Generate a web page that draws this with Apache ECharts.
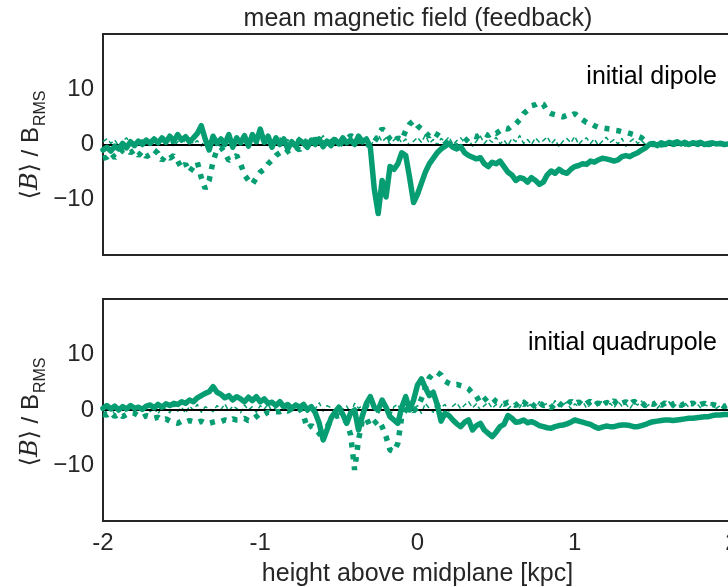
<!DOCTYPE html>
<html>
<head>
<meta charset="utf-8">
<script src="https://cdn.jsdelivr.net/npm/echarts@6/dist/echarts.min.js"></script>
<style>
html,body{margin:0;padding:0;background:#fff;}
#chart{width:728px;height:587px;}
</style>
</head>
<body>
<div id="chart"></div>
<script>
// ---- data ----
const chartTitle = 'mean magnetic field (feedback)';
const panelLabels = ['initial dipole', 'initial quadrupole'];
const xAxisName = 'height above midplane [kpc]';
const xTickValues = [-2, -1, 0, 1, 2];
const xTickLabels = ['-2', '-1', '0', '1', '2'];
const yTickValues = [-10, 0, 10];
const yTickLabels = ['\u221210', '0', '10'];

// sampling grid of heights (kpc), 161 samples from -2 to 2
const zStart = -2, zStep = 0.025, zCount = 161;

// top panel (initial dipole)
const dipoleSolid = [
  -1.0,-0.5,-1.2,-0.3,-0.8,0.2,-0.6,0.5,-0.2,0.6,
  0.0,0.8,0.2,1.0,0.3,1.2,0.4,1.5,0.6,1.8,
  0.8,1.4,0.5,1.2,2.0,3.4,1.0,-1.0,1.5,0.2,
  1.0,0.0,1.8,-0.5,1.2,0.3,1.6,-0.3,1.8,0.5,
  2.8,0.4,1.5,-0.5,1.2,0.0,1.0,-0.8,0.5,-0.3,
  0.8,0.2,-0.5,0.8,0.0,1.0,-0.4,0.6,-0.2,0.9,
  0.1,1.2,0.3,0.8,0.0,1.5,0.5,1.0,-0.5,-8.0,
  -12.5,-6.5,-9.5,-4.0,-4.5,-3.5,-1.5,-2.0,-6.0,-10.5,
  -9.0,-7.0,-5.0,-3.5,-2.5,-1.5,-0.8,-0.3,0.2,-0.5,
  -0.8,-0.4,-1.5,-2.0,-2.3,-2.6,-2.4,-3.5,-4.0,-3.2,
  -3.5,-3.0,-4.0,-5.0,-5.5,-6.5,-6.0,-6.2,-6.8,-6.0,
  -6.5,-7.2,-6.8,-5.5,-4.8,-5.2,-4.5,-5.0,-5.2,-4.5,
  -4.0,-3.8,-3.5,-3.6,-3.0,-3.2,-2.8,-2.5,-2.6,-2.8,
  -3.0,-2.8,-2.2,-2.0,-2.2,-1.8,-1.5,-1.0,-0.6,0.0,
  0.2,-0.2,0.3,0.0,0.4,0.2,0.5,0.1,0.4,0.0,
  0.3,0.2,0.4,0.0,0.2,0.3,0.1,0.2,0.0,0.1,
  0.0
];
const dipoleDotted = [
  -2.5,-2.3,-1.5,-2.4,-1.8,-1.0,-0.8,-1.5,-1.0,-2.0,
  -1.2,-2.2,-1.8,-1.0,-1.6,-2.9,-2.0,-2.5,-2.0,-3.0,
  -4.3,-3.5,-5.0,-4.0,-3.2,-6.0,-8.0,-6.5,-3.0,-1.0,
  -0.5,-1.5,-2.9,-2.5,-2.0,-3.5,-5.5,-6.5,-7.2,-6.0,
  -5.0,-4.5,-3.5,-2.8,-2.0,-1.5,-1.8,-1.2,-1.0,-0.5,
  -1.0,0.2,0.8,0.3,1.0,0.5,0.0,0.8,1.2,0.4,
  -0.3,0.6,1.0,1.6,1.2,0.5,1.0,0.2,-0.4,0.5,
  1.5,2.9,2.0,1.0,0.4,1.2,0.8,2.5,3.7,4.3,
  3.4,2.8,2.2,1.5,2.2,1.8,1.3,0.5,0.0,0.2,
  -0.3,0.1,0.5,1.2,1.6,1.4,1.8,2.0,1.6,2.2,
  2.0,2.5,3.0,2.8,3.4,3.7,4.5,5.6,6.2,7.0,
  7.2,7.6,7.3,6.0,5.6,5.4,5.2,5.0,5.3,5.2,
  5.6,5.0,4.5,4.0,3.8,3.4,3.1,3.0,2.9,2.8,
  2.6,2.5,2.3,2.2,2.0,1.8,1.5,1.2,0.6,0.2,
  0.0,0.2,-0.1,0.1,0.3,0.0,0.2,-0.1,0.1,0.2,
  0.0,0.1,-0.1,0.2,0.0,0.1,0.0,0.2,0.1,0.0,
  0.1
];
const dipoleDashed = [
  0.5,1.0,0.2,0.8,-0.3,0.6,1.2,0.1,0.7,-0.2,
  0.9,0.3,1.1,0.0,0.6,1.3,0.2,0.8,-0.4,0.5,
  1.0,0.3,1.4,0.1,0.7,-0.3,0.9,0.4,1.2,0.0,
  0.6,1.5,0.2,0.8,-0.2,1.0,0.3,0.7,1.3,0.0,
  0.5,1.1,-0.3,0.8,0.2,1.2,0.4,0.9,-0.1,0.6,
  1.4,0.2,0.8,0.0,1.1,0.5,1.6,0.3,0.9,-0.2,
  0.7,1.2,0.1,1.0,0.4,1.5,0.2,0.6,-0.3,0.9,
  1.8,0.5,1.2,0.0,0.8,1.4,0.3,1.0,-0.2,0.6,
  1.3,0.4,1.7,0.2,0.9,-0.1,1.1,0.5,1.4,0.0,
  0.7,1.2,0.3,0.9,-0.3,0.6,1.5,0.2,1.0,0.4,
  1.3,0.1,0.8,-0.2,1.1,0.5,1.6,0.2,0.9,0.0,
  1.2,0.4,0.7,1.4,0.1,0.9,-0.4,0.6,1.1,0.3,
  1.5,0.0,0.8,1.2,0.2,1.0,-0.2,0.6,1.3,0.4,
  0.9,0.1,1.1,-0.3,0.5,1.0,0.2,0.7,0.0,0.4,
  0.2,0.3,0.1,0.2,0.0,0.2,0.1,0.0,0.1,0.2,
  0.0,0.1,0.0,0.1,0.2,0.0,0.1,0.0,0.1,0.0,
  0.1
];

// bottom panel (initial quadrupole)
const quadSolid = [
  0.3,0.8,0.2,0.7,0.0,0.6,0.2,0.8,0.3,0.5,
  0.1,0.7,0.9,0.4,1.0,0.5,1.1,0.8,1.2,1.0,
  1.5,1.2,1.8,1.5,2.2,2.6,3.0,3.3,4.2,3.2,
  2.8,2.2,2.6,1.8,2.4,2.0,1.5,2.3,1.7,2.4,
  1.5,2.0,1.2,1.4,0.8,1.5,0.6,1.0,0.3,0.9,
  0.5,1.0,0.0,0.6,-0.5,-2.4,-5.4,-3.5,-1.5,-0.4,
  0.5,-0.8,-2.4,-0.5,0.0,-3.6,-1.0,1.2,2.4,0.5,
  0.0,1.8,0.5,-1.2,-1.8,-2.4,0.5,2.4,0.0,1.8,
  4.5,5.6,4.0,2.6,3.2,1.0,-2.0,-0.6,-1.0,-1.8,
  -2.5,-3.0,-2.2,-1.8,-3.6,-2.8,-2.4,-3.6,-4.2,-4.8,
  -4.0,-3.0,-2.6,-1.0,-1.5,-2.2,-2.1,-1.8,-2.3,-2.1,
  -2.4,-2.8,-3.0,-3.2,-3.3,-3.0,-2.8,-2.7,-2.5,-2.2,
  -1.8,-2.0,-2.2,-2.4,-2.6,-3.0,-3.3,-3.1,-2.9,-3.0,
  -3.0,-2.8,-2.7,-2.7,-2.8,-3.0,-3.0,-2.8,-2.6,-2.3,
  -2.1,-2.0,-1.9,-1.8,-1.8,-1.9,-1.8,-1.7,-1.6,-1.5,
  -1.5,-1.4,-1.3,-1.2,-1.2,-1.0,-0.9,-0.9,-0.8,-0.8,
  -0.7
];
const quadDotted = [
  -0.8,-0.9,-0.4,-1.2,-0.6,-1.2,-0.8,-0.5,-0.6,-1.0,
  -1.4,-1.0,-1.2,-1.5,-1.3,-1.8,-1.6,-2.0,-2.2,-2.4,
  -2.0,-2.2,-1.9,-2.1,-2.3,-2.0,-2.4,-2.4,-2.2,-2.0,
  -2.1,-1.8,-2.0,-1.6,-1.8,-1.8,-1.5,-1.9,-1.8,-1.2,
  -0.6,-0.8,-0.4,-0.6,-0.3,-0.3,0.0,-0.2,0.2,0.3,
  0.3,-1.0,-3.3,-2.8,-3.5,-4.2,-5.4,-3.0,-1.8,-1.2,
  -1.0,-1.5,-2.2,-4.5,-10.8,-5.4,-1.8,-1.5,-3.0,-2.4,
  -1.8,-3.0,-4.8,-7.2,-7.5,-6.0,-1.2,0.0,0.4,-0.2,
  0.5,2.0,4.0,5.8,6.6,6.8,6.3,5.2,4.8,4.5,
  4.6,4.4,4.2,3.8,3.0,2.5,1.2,1.8,2.4,2.2,
  1.5,1.2,1.0,1.4,1.2,0.8,1.5,0.9,1.8,1.2,
  0.5,1.3,0.8,1.0,0.4,1.1,0.6,1.4,0.9,1.6,
  1.0,1.5,0.7,1.2,1.6,0.9,1.3,0.6,1.4,1.0,
  1.7,0.8,1.2,1.5,0.9,1.6,1.1,1.4,0.7,1.2,
  1.0,1.5,0.8,1.3,0.6,1.1,1.4,0.8,1.2,0.9,
  1.3,0.6,1.0,1.2,0.7,1.0,0.8,1.1,0.6,0.9,
  0.7
];
const quadDashed = [
  0.2,-0.5,0.4,-0.8,0.1,0.6,-0.4,0.3,-0.6,0.5,
  0.0,0.8,-0.3,0.4,-0.7,0.6,0.1,-0.5,0.9,-0.2,
  0.5,-0.6,0.7,0.0,1.0,-0.4,0.6,0.2,-0.3,0.8,
  0.1,1.1,-0.2,0.7,0.3,-0.5,0.9,0.0,0.6,-0.4,
  0.8,0.2,1.0,-0.3,0.5,0.9,-0.1,0.7,0.3,1.2,
  0.0,0.6,-0.4,0.9,0.2,1.3,-0.2,0.8,0.4,-0.5,
  1.0,0.1,0.7,-0.6,1.2,0.3,0.8,-0.2,1.5,0.4,
  -0.8,0.9,0.2,-1.2,0.6,1.0,-0.5,0.3,1.4,0.0,
  0.8,-0.6,1.2,0.3,-0.4,1.6,0.5,1.0,-0.2,0.7,
  1.3,0.2,0.9,1.5,0.4,1.1,0.0,0.8,1.4,0.3,
  1.0,0.5,1.6,0.2,0.9,1.3,0.4,1.8,0.7,1.1,
  0.3,1.5,0.8,1.2,0.4,1.7,0.6,1.0,1.4,0.2,
  1.1,0.6,1.6,0.3,1.0,1.4,0.5,1.8,0.8,1.2,
  0.4,1.5,0.7,1.1,0.2,1.3,0.9,1.6,0.5,1.0,
  1.4,0.3,1.2,0.8,1.5,0.4,1.1,0.7,1.3,0.5,
  0.9,1.2,0.4,1.0,0.6,1.1,0.3,0.8,0.5,0.7,
  0.4
];

// ---- chart ----
const GREEN = '#079d72';
const TXT = '#262626';
const FONT = '"Liberation Sans", Arial, sans-serif';

const heights = [];
for (let i = 0; i < zCount; i++) heights.push(+(zStart + i * zStep).toFixed(4));
const pairs = ys => ys.map((y, i) => [heights[i], y]);

function xLabel(v) { const k = xTickValues.indexOf(v); return k >= 0 ? xTickLabels[k] : ''; }
function yLabel(v) { const k = yTickValues.indexOf(v); return k >= 0 ? yTickLabels[k] : ''; }

const grids = [
  { left: 103, top: 34, width: 629, height: 221 },
  { left: 103, top: 299, width: 629, height: 222 }
];

function xAx(gi, showLabels) {
  return {
    gridIndex: gi, type: 'value', min: -2, max: 2, interval: 1,
    axisLine: { show: false }, axisTick: { show: false }, splitLine: { show: false },
    axisLabel: { show: showLabels, formatter: xLabel, fontSize: 24, color: TXT, fontFamily: FONT, margin: 10, hideOverlap: false },
    name: showLabels ? xAxisName : '', nameLocation: 'middle', nameGap: 41,
    nameTextStyle: { fontSize: 25, color: TXT, fontFamily: FONT }
  };
}
function yAx(gi) {
  return {
    gridIndex: gi, type: 'value', min: -20, max: 20, interval: 10,
    axisLine: { show: false }, axisTick: { show: false }, splitLine: { show: false },
    axisLabel: { formatter: yLabel, fontSize: 24, color: TXT, fontFamily: FONT, margin: 9 }
  };
}

function panelSeries(gi, solid, dotted, dashed) {
  const base = { type: 'line', xAxisIndex: gi, yAxisIndex: gi, showSymbol: false, symbol: 'none', animation: false, silent: true };
  return [
    Object.assign({}, base, {
      data: pairs(dashed), z: 2,
      lineStyle: { color: GREEN, width: 1.5, type: [5, 3], join: 'round' }
    }),
    Object.assign({}, base, {
      data: pairs(dotted), z: 3,
      lineStyle: { color: GREEN, width: 5.5, type: [5, 7], cap: 'butt', join: 'bevel' },
      markLine: {
        silent: true, symbol: 'none', animation: false, z: 3,
        label: { show: false },
        lineStyle: { color: '#000', width: 2, type: 'solid' },
        data: [{ yAxis: 0 }]
      }
    }),
    Object.assign({}, base, {
      data: pairs(solid), z: 4,
      lineStyle: { color: GREEN, width: 5.5, type: 'solid', join: 'round', cap: 'round' }
    })
  ];
}

const gridStyle = { show: true, borderColor: TXT, borderWidth: 2, backgroundColor: 'transparent', outerBoundsMode: 'none', containLabel: false };

const option = {
  animation: false,
  backgroundColor: '#fff',
  grid: grids.map(g => Object.assign({}, g, gridStyle)),
  xAxis: [xAx(0, false), xAx(1, true)],
  yAxis: [yAx(0), yAx(1)],
  series: [].concat(
    panelSeries(0, dipoleSolid, dipoleDotted, dipoleDashed),
    panelSeries(1, quadSolid, quadDotted, quadDashed)
  ),
  graphic: [
    { type: 'text', x: 418, y: 19, style: { text: chartTitle, font: '25px ' + FONT, fill: TXT, textAlign: 'center', textVerticalAlign: 'middle' } },
    { type: 'text', x: 717, y: 77, style: { text: panelLabels[0], font: '25px ' + FONT, fill: '#000', textAlign: 'right', textVerticalAlign: 'middle' } },
    { type: 'text', x: 717, y: 343, style: { text: panelLabels[1], font: '25px ' + FONT, fill: '#000', textAlign: 'right', textVerticalAlign: 'middle' } }
  ].concat([145, 412].map(cy => ({
    type: 'text', x: 34, y: cy, rotation: Math.PI / 2,
    style: {
      text: '{a|\u27E8}{b|B}{a|\u27E9}{c| / B}{s|RMS}',
      textAlign: 'center', textVerticalAlign: 'middle', fill: TXT,
      rich: {
        a: { fontFamily: '"DejaVu Sans", sans-serif', fontSize: 24, verticalAlign: 'top', fill: TXT },
        b: { fontFamily: '"DejaVu Serif", serif', fontStyle: 'italic', fontSize: 24, verticalAlign: 'top', fill: TXT },
        c: { fontFamily: FONT, fontSize: 24, verticalAlign: 'top', fill: TXT },
        s: { fontFamily: FONT, fontSize: 16, verticalAlign: 'top', padding: [14, 0, 0, 1], fill: TXT }
      }
    }
  })))
};

const chart = echarts.init(document.getElementById('chart'), null, { renderer: 'canvas' });
chart.setOption(option);
</script>
</body>
</html>
